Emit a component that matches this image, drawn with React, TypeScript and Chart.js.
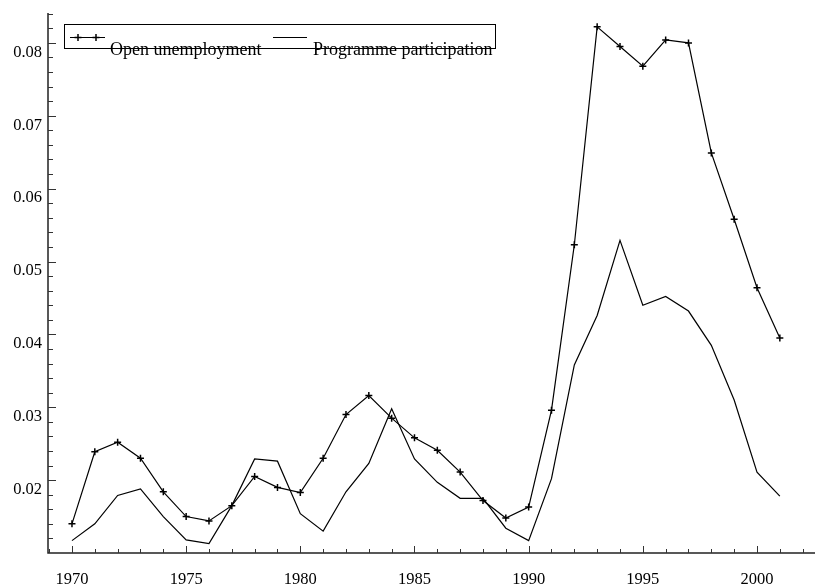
import React, { useEffect, useRef } from "react";
import { Chart, registerables } from "chart.js";

Chart.register(...registerables);

const years = [
  1970, 1971, 1972, 1973, 1974, 1975, 1976, 1977, 1978, 1979,
  1980, 1981, 1982, 1983, 1984, 1985, 1986, 1987, 1988, 1989,
  1990, 1991, 1992, 1993, 1994, 1995, 1996, 1997, 1998, 1999,
  2000, 2001,
];

const openUnemployment = [
  0.014, 0.0239, 0.0252, 0.023, 0.0184, 0.015, 0.0144, 0.0165, 0.0205, 0.019,
  0.0183, 0.023, 0.029, 0.0316, 0.0285, 0.0258, 0.0241, 0.0211, 0.0172, 0.0148,
  0.0163, 0.0296, 0.0523, 0.0822, 0.0795, 0.0768, 0.0804, 0.08, 0.0649, 0.0558,
  0.0464, 0.0395,
];

const programmeParticipation = [
  0.0117, 0.014, 0.0179, 0.0188, 0.015, 0.0118, 0.0113, 0.0165, 0.0229, 0.0226,
  0.0154, 0.013, 0.0184, 0.0223, 0.0298, 0.0229, 0.0197, 0.0175, 0.0175, 0.0134,
  0.0117, 0.0202, 0.0358, 0.0426, 0.0529, 0.044, 0.0452, 0.0432, 0.0385, 0.031,
  0.0211, 0.0178,
];

const seriesLabels = ["Open unemployment", "Programme participation"];

const xTickValues = [1970, 1975, 1980, 1985, 1990, 1995, 2000];
const xTickLabels = ["1970", "1975", "1980", "1985", "1990", "1995", "2000"];
const yTickValues = [0.02, 0.03, 0.04, 0.05, 0.06, 0.07, 0.08];
const yTickLabels = ["0.02", "0.03", "0.04", "0.05", "0.06", "0.07", "0.08"];

const FONT = '"Liberation Serif", "DejaVu Serif", serif';

const axesPlugin = {
  id: "customAxes",
  afterDraw(chart: any) {
    const ctx = chart.ctx as CanvasRenderingContext2D;
    const xs = chart.scales.x;
    const ys = chart.scales.y;
    const area = chart.chartArea;
    ctx.save();
    // axis lines
    ctx.strokeStyle = "#222";
    ctx.lineWidth = 1.5;
    ctx.beginPath();
    ctx.moveTo(area.left, area.top);
    ctx.lineTo(area.left, area.bottom);
    ctx.lineTo(area.right, area.bottom);
    ctx.stroke();

    ctx.lineWidth = 1;
    ctx.strokeStyle = "#333";
    // x minor ticks (every year)
    for (let yr = Math.ceil(xs.min); yr <= xs.max; yr++) {
      const px = Math.round(xs.getPixelForValue(yr)) + 0.5;
      const major = xTickValues.includes(yr);
      ctx.beginPath();
      ctx.moveTo(px, area.bottom);
      ctx.lineTo(px, area.bottom - (major ? 7 : 4));
      ctx.stroke();
    }
    // y ticks every 0.002
    for (let k = Math.ceil(ys.min / 0.002 + 1e-6); k * 0.002 <= ys.max + 1e-9; k++) {
      const v = k * 0.002;
      const py = Math.round(ys.getPixelForValue(v)) + 0.5;
      const major = k % 5 === 0;
      ctx.beginPath();
      ctx.moveTo(area.left, py);
      ctx.lineTo(area.left + (major ? 8 : 5), py);
      ctx.stroke();
    }

    // labels
    ctx.fillStyle = "#000";
    ctx.font = `16.5px ${FONT}`;
    ctx.textAlign = "center";
    ctx.textBaseline = "middle";
    xTickValues.forEach((v, i) => {
      ctx.fillText(xTickLabels[i], xs.getPixelForValue(v), 580);
    });
    ctx.textAlign = "right";
    yTickValues.forEach((v, i) => {
      ctx.fillText(yTickLabels[i], 42, ys.getPixelForValue(v) + 9.5);
    });

    // legend
    const bx = 64, by = 24, bw = 431, bh = 24;
    ctx.fillStyle = "#fff";
    ctx.fillRect(bx, by, bw, bh);
    ctx.strokeStyle = "#000";
    ctx.lineWidth = 1;
    ctx.strokeRect(bx + 0.5, by + 0.5, bw, bh);
    const ly = 37.5;
    ctx.lineWidth = 1.2;
    ctx.beginPath();
    ctx.moveTo(70, ly);
    ctx.lineTo(105, ly);
    ctx.moveTo(273, ly);
    ctx.lineTo(307, ly);
    ctx.stroke();
    ctx.lineWidth = 1.5;
    [78, 96].forEach((mx) => {
      ctx.beginPath();
      ctx.moveTo(mx - 3.5, ly);
      ctx.lineTo(mx + 3.5, ly);
      ctx.moveTo(mx, ly - 3.5);
      ctx.lineTo(mx, ly + 3.5);
      ctx.stroke();
    });
    ctx.fillStyle = "#000";
    ctx.font = `18px ${FONT}`;
    ctx.textAlign = "left";
    ctx.textBaseline = "middle";
    ctx.fillText(seriesLabels[0], 110, 50);
    ctx.fillText(seriesLabels[1], 313, 50);
    ctx.restore();
  },
};

export default function App() {
  const ref = useRef<HTMLCanvasElement | null>(null);
  useEffect(() => {
    if (!ref.current) return;
    const chart = new Chart(ref.current, {
      type: "line",
      data: {
        datasets: [
          {
            label: seriesLabels[0],
            data: years.map((yr, i) => ({ x: yr, y: openUnemployment[i] })),
            borderColor: "#000",
            borderWidth: 1.2,
            pointStyle: "cross",
            pointRadius: 3.5,
            pointBorderWidth: 1.5,
            pointBorderColor: "#000",
            pointBackgroundColor: "#000",
            tension: 0,
            fill: false,
          },
          {
            label: seriesLabels[1],
            data: years.map((yr, i) => ({ x: yr, y: programmeParticipation[i] })),
            borderColor: "#000",
            borderWidth: 1.2,
            pointRadius: 0,
            tension: 0,
            fill: false,
          },
        ],
      },
      options: {
        responsive: false,
        animation: false,
        layout: { autoPadding: false, padding: { left: 48, top: 13, right: 0, bottom: 35 } },
        scales: {
          x: { type: "linear", min: 1968.95, max: 2002.54, display: false },
          y: { type: "linear", min: 0.01, max: 0.0841, display: false },
        },
        plugins: {
          legend: { display: false },
          tooltip: { enabled: false },
        },
      },
      plugins: [axesPlugin],
    });
    return () => chart.destroy();
  }, []);
  return (
    <div style={{ position: "absolute", left: 0, top: 0, width: 815, height: 588, background: "#fff" }}>
      <canvas ref={ref} width={815} height={588} style={{ display: "block" }} />
    </div>
  );
}
